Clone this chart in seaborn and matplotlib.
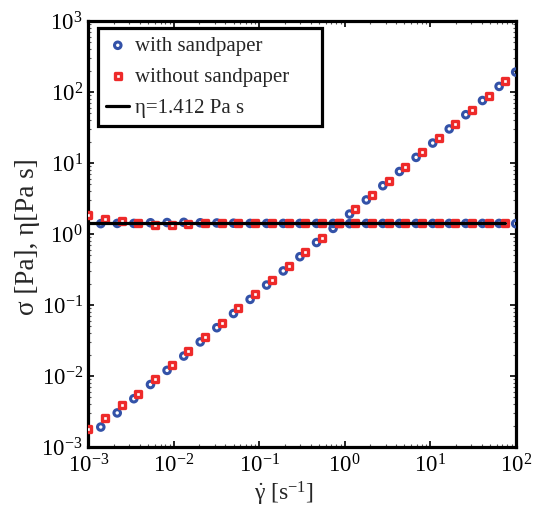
import matplotlib
matplotlib.use("Agg")
import matplotlib.pyplot as plt
import seaborn as sns
import pandas as pd
from matplotlib.ticker import LogLocator, NullFormatter

# ---- data ----
rate_a = [1.40e-3, 2.18e-3, 3.41e-3, 5.34e-3, 8.35e-3, 1.31e-2, 2.04e-2, 3.19e-2,
          5.00e-2, 7.82e-2, 0.122, 0.191, 0.299, 0.468, 0.731, 1.14, 1.79, 2.79,
          4.37, 6.84, 10.7, 16.7, 26.1, 40.9, 64.0, 100.0]
stress_a = [1.91e-3, 3.02e-3, 4.79e-3, 7.59e-3, 1.20e-2, 1.91e-2, 3.02e-2, 4.79e-2,
            7.59e-2, 0.120, 0.191, 0.302, 0.479, 0.759, 1.20, 1.91, 3.02, 4.79,
            7.59, 12.0, 19.1, 30.2, 47.9, 75.9, 120.0, 191.0]
visc_a = [1.40, 1.41, 1.41, 1.44, 1.45, 1.46, 1.44, 1.43, 1.42, 1.41, 1.41, 1.41, 1.41,
          1.41, 1.41, 1.40, 1.41, 1.41, 1.41, 1.41, 1.41, 1.41, 1.41, 1.41, 1.41, 1.40]

rate_b = [1.00e-3, 1.57e-3, 2.46e-3, 3.85e-3, 6.04e-3, 9.46e-3, 1.48e-2, 2.32e-2,
          3.64e-2, 5.71e-2, 8.95e-2, 0.140, 0.220, 0.345, 0.541, 0.847, 1.33, 2.08,
          3.26, 5.11, 8.02, 12.6, 19.7, 30.9, 48.4, 75.9]
stress_b = [1.80e-3, 2.54e-3, 3.91e-3, 5.64e-3, 8.93e-3, 1.42e-2, 2.24e-2, 3.56e-2,
            5.64e-2, 8.93e-2, 0.142, 0.224, 0.356, 0.564, 0.893, 1.42, 2.24, 3.56,
            5.64, 8.93, 14.2, 22.4, 35.6, 56.4, 89.3, 142.0]
visc_b = [1.85, 1.61, 1.52, 1.43, 1.36, 1.36, 1.40, 1.41, 1.41, 1.41, 1.41, 1.41, 1.41,
          1.41, 1.41, 1.41, 1.41, 1.41, 1.41, 1.41, 1.41, 1.41, 1.41, 1.41, 1.41, 1.41]

eta_fit = 1.412
labels = ["with sandpaper", "without sandpaper", "η=1.412 Pa s"]

# ---- style ----
sns.set_style("ticks")
plt.rcParams["font.family"] = ["Liberation Serif", "DejaVu Serif"]
plt.rcParams["mathtext.fontset"] = "custom"
plt.rcParams["mathtext.rm"] = "Liberation Serif"
plt.rcParams["mathtext.it"] = "Liberation Serif"
plt.rcParams["mathtext.bf"] = "Liberation Serif:bold"
plt.rcParams["axes.unicode_minus"] = False

blue = "#3352a8"
red = "#ee2a2a"

fig = plt.figure(figsize=(5.38, 5.09), dpi=100)
ax = fig.add_axes([0.1641, 0.1218, 0.7944, 0.8369])

df_a = pd.DataFrame({"rate": rate_a + rate_a, "val": stress_a + visc_a})
df_b = pd.DataFrame({"rate": rate_b + rate_b, "val": stress_b + visc_b})

sns.scatterplot(data=df_a, x="rate", y="val", ax=ax, marker="o", s=22,
                facecolor="none", edgecolor=blue, linewidth=2.2,
                label=labels[0], zorder=3)
sns.scatterplot(data=df_b, x="rate", y="val", ax=ax, marker="s", s=18,
                facecolor="white", edgecolor=red, linewidth=2.4,
                label=labels[1], zorder=4)
df_fit = pd.DataFrame({"rate": [rate_b[0], rate_b[-1]], "val": [eta_fit, eta_fit]})
sns.lineplot(data=df_fit, x="rate", y="val", ax=ax, color="black", linewidth=2.3,
             label=labels[2], zorder=5)

ax.set_xscale("log")
ax.set_yscale("log")
ax.set_xlim(1e-3, 1e2)
ax.set_ylim(1e-3, 1e3)

ax.xaxis.set_major_locator(LogLocator(base=10, numticks=10))
ax.yaxis.set_major_locator(LogLocator(base=10, numticks=10))
ax.xaxis.set_minor_locator(LogLocator(base=10, subs=range(2, 10), numticks=20))
ax.yaxis.set_minor_locator(LogLocator(base=10, subs=range(2, 10), numticks=20))
ax.xaxis.set_minor_formatter(NullFormatter())
ax.yaxis.set_minor_formatter(NullFormatter())

ax.tick_params(which="major", direction="in", length=4, width=1.2, top=True,
               right=True, labelsize=16.5, colors="black")
ax.tick_params(which="minor", direction="in", length=2.2, width=0.8, top=True,
               right=True, color="#555555")
ax.tick_params(axis="x", which="major", pad=5)
ax.tick_params(axis="y", which="major", pad=4)

for sp in ax.spines.values():
    sp.set_linewidth(2.3)
    sp.set_color("black")

ax.set_xlabel(r"$\dot{\gamma}$ [s$^{\mathrm{-1}}$]", fontsize=17)
ax.xaxis.set_label_coords(0.458, -0.078)
ax.set_ylabel("σ [Pa], η[Pa s]", fontsize=19.5)
ax.yaxis.set_label_coords(-0.113, 0.493)

leg = ax.legend(loc="upper left", bbox_to_anchor=(0.0227, 0.984, 0.524, 0.0),
                mode="expand", fontsize=15, frameon=True, fancybox=False,
                framealpha=1, edgecolor="black", handlelength=1.1,
                handletextpad=0.3, borderpad=0.4, labelspacing=0.55,
                borderaxespad=0.0)
leg.get_frame().set_linewidth(2.3)

fig.savefig("out.png", dpi=100)
